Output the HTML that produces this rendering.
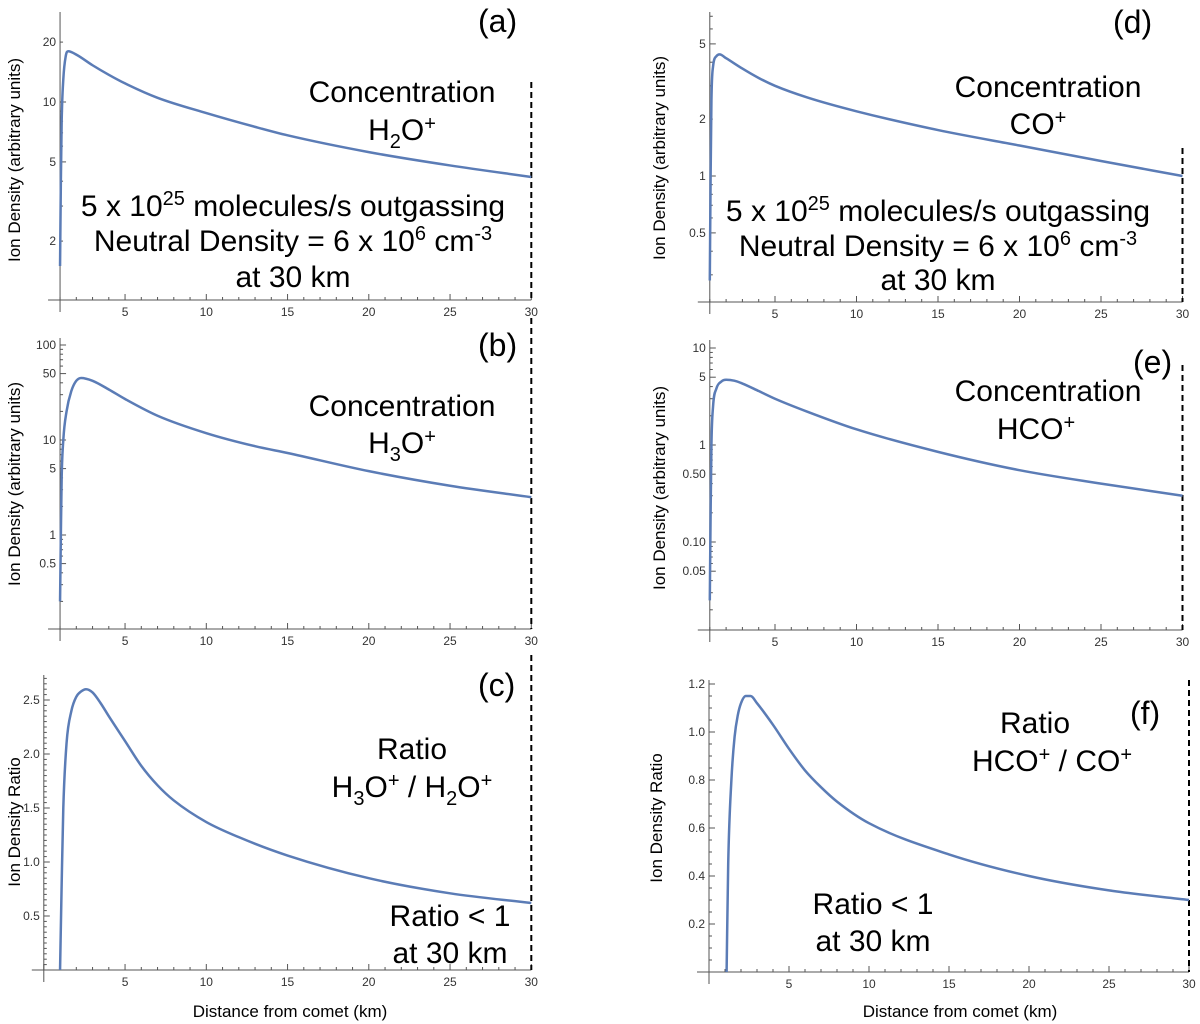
<!DOCTYPE html>
<html><head><meta charset="utf-8"><style>
html,body{margin:0;padding:0;background:#fff;}
svg{display:block;font-family:"Liberation Sans",sans-serif;}
.big{font-size:30px;fill:#000;}
.pl{font-size:32px;fill:#000;}
.tk{font-size:12px;fill:#333;}
.ax{stroke:#555;stroke-width:1;}
</style></head><body>
<svg id="fig" width="1200" height="1024" viewBox="0 0 1200 1024" xmlns="http://www.w3.org/2000/svg">
<g id="annot">
<text class="pl" x="478" y="32">(a)</text>
<text class="big" x="402" y="102" text-anchor="middle">Concentration</text>
<text class="big" x="402" y="140" text-anchor="middle">H<tspan font-size="20" dy="8">2</tspan><tspan dy="-8">O</tspan><tspan font-size="20" dy="-10">+</tspan></text>
<text class="big" x="293" y="216" text-anchor="middle">5 x 10<tspan font-size="20" dy="-11">25</tspan><tspan dy="11"> molecules/s outgassing</tspan></text>
<text class="big" x="293" y="251" text-anchor="middle">Neutral Density = 6 x 10<tspan font-size="20" dy="-11">6</tspan><tspan dy="11"> cm</tspan><tspan font-size="20" dy="-11">-3</tspan></text>
<text class="big" x="293" y="287" text-anchor="middle">at 30 km</text>

<text class="pl" x="478" y="356">(b)</text>
<text class="big" x="402" y="416" text-anchor="middle">Concentration</text>
<text class="big" x="402" y="453" text-anchor="middle">H<tspan font-size="20" dy="8">3</tspan><tspan dy="-8">O</tspan><tspan font-size="20" dy="-10">+</tspan></text>

<text class="pl" x="478" y="696">(c)</text>
<text class="big" x="412" y="759" text-anchor="middle">Ratio</text>
<text class="big" x="412" y="797" text-anchor="middle">H<tspan font-size="20" dy="8">3</tspan><tspan dy="-8">O</tspan><tspan font-size="20" dy="-10">+</tspan><tspan dy="10"> / H</tspan><tspan font-size="20" dy="8">2</tspan><tspan dy="-8">O</tspan><tspan font-size="20" dy="-10">+</tspan></text>
<text class="big" x="450" y="926" text-anchor="middle">Ratio &lt; 1</text>
<text class="big" x="450" y="963" text-anchor="middle">at 30 km</text>

<text class="pl" x="1113" y="33">(d)</text>
<text class="big" x="1048" y="97" text-anchor="middle">Concentration</text>
<text class="big" x="1038" y="134" text-anchor="middle">CO<tspan font-size="20" dy="-10">+</tspan></text>
<text class="big" x="938" y="221" text-anchor="middle">5 x 10<tspan font-size="20" dy="-11">25</tspan><tspan dy="11"> molecules/s outgassing</tspan></text>
<text class="big" x="938" y="256" text-anchor="middle">Neutral Density = 6 x 10<tspan font-size="20" dy="-11">6</tspan><tspan dy="11"> cm</tspan><tspan font-size="20" dy="-11">-3</tspan></text>
<text class="big" x="938" y="290" text-anchor="middle">at 30 km</text>

<text class="pl" x="1133" y="373">(e)</text>
<text class="big" x="1048" y="401" text-anchor="middle">Concentration</text>
<text class="big" x="1036" y="439" text-anchor="middle">HCO<tspan font-size="20" dy="-10">+</tspan></text>

<text class="pl" x="1130" y="724">(f)</text>
<text class="big" x="1035" y="733" text-anchor="middle">Ratio</text>
<text class="big" x="1052" y="771" text-anchor="middle">HCO<tspan font-size="20" dy="-10">+</tspan><tspan dy="10"> / CO</tspan><tspan font-size="20" dy="-10">+</tspan></text>
<text class="big" x="873" y="914" text-anchor="middle">Ratio &lt; 1</text>
<text class="big" x="873" y="951" text-anchor="middle">at 30 km</text>

<text x="290" y="1017" font-size="17" text-anchor="middle">Distance from comet (km)</text>
<text x="960" y="1017" font-size="17" text-anchor="middle">Distance from comet (km)</text>
<text transform="translate(20,160) rotate(-90)" font-size="17" text-anchor="middle">Ion Density (arbitrary units)</text>
<text transform="translate(20,484) rotate(-90)" font-size="17" text-anchor="middle">Ion Density (arbitrary units)</text>
<text transform="translate(20,822) rotate(-90)" font-size="17" text-anchor="middle">Ion Density Ratio</text>
<text transform="translate(665,158) rotate(-90)" font-size="17" text-anchor="middle">Ion Density (arbitrary units)</text>
<text transform="translate(665,488) rotate(-90)" font-size="17" text-anchor="middle">Ion Density (arbitrary units)</text>
<text transform="translate(662,818) rotate(-90)" font-size="17" text-anchor="middle">Ion Density Ratio</text>
</g>
</svg>
<script>
const distA=[1,1.05,1.1,1.2,1.35,1.5,2,3,4,5,7,10,13,15,20,25,30];
const densA=[1.5,4,8,13,17,18,17.3,15.3,13.7,12.4,10.5,8.8,7.5,6.8,5.6,4.8,4.2];
const distB=[1,1.05,1.1,1.2,1.4,1.7,2,2.3,3,4,5,7,10,13,15,20,25,30];
const densB=[0.2,1,4,10,20,33,42,45,42,34,27,18,11.8,8.6,7.3,4.7,3.3,2.5];
const distC=[1,1.1,1.2,1.4,1.7,2,2.3,2.6,3,3.5,4,5,6,7,8,10,12,15,20,25,30];
const ratioC=[0,0.8,1.5,2.1,2.4,2.53,2.58,2.6,2.57,2.47,2.35,2.12,1.89,1.71,1.57,1.37,1.23,1.06,0.85,0.71,0.62];
const distD=[1,1.05,1.1,1.2,1.4,1.6,2,3,4,5,7,10,15,20,25,30];
const densD=[0.28,1,2.5,3.8,4.3,4.4,4.2,3.7,3.3,3.0,2.6,2.2,1.75,1.45,1.2,1.0];
const distE=[1,1.05,1.1,1.2,1.4,1.7,2,2.5,3,4,5,7,10,15,20,25,30];
const densE=[0.025,0.2,1,2.5,3.8,4.5,4.7,4.6,4.3,3.6,3.0,2.2,1.45,0.85,0.55,0.4,0.3];
const distF=[1.1,1.2,1.4,1.6,1.8,2,2.3,2.6,3,4,5,6,7,8,10,15,20,25,30];
const ratioF=[0,0.45,0.8,0.98,1.07,1.12,1.15,1.15,1.12,1.03,0.93,0.84,0.77,0.71,0.62,0.49,0.4,0.34,0.3];
const xTicks=[5,10,15,20,25,30];
const yTicksA=[2,5,10,20];
const yTicksB=[0.5,1,5,10,50,100];
const yTicksC=[0.5,1.0,1.5,2.0,2.5];
const yTicksD=[0.5,1,2,5];
const yTicksE=[0.05,0.1,0.5,1,5,10];
const yTicksF=[0.2,0.4,0.6,0.8,1.0,1.2];

const NS='http://www.w3.org/2000/svg';
const svg=document.getElementById('fig');
function mk(tag,attrs,parent){const e=document.createElementNS(NS,tag);for(const k in attrs)e.setAttribute(k,attrs[k]);parent.appendChild(e);return e;}

function monoPath(P){
  const n=P.length;if(n<2)return '';
  const d=[],m=[];
  for(let i=0;i<n-1;i++){d.push((P[i+1][1]-P[i][1])/(P[i+1][0]-P[i][0]||1e-6));}
  m[0]=d[0];m[n-1]=d[n-2];
  for(let i=1;i<n-1;i++){m[i]=(d[i-1]*d[i]<=0)?0:(d[i-1]+d[i])/2;}
  for(let i=0;i<n-1;i++){if(d[i]===0){m[i]=0;m[i+1]=0;continue;}const a=m[i]/d[i],b=m[i+1]/d[i],s=a*a+b*b;if(s>9){const t=3/Math.sqrt(s);m[i]=t*a*d[i];m[i+1]=t*b*d[i];}}
  let s='M'+P[0][0].toFixed(2)+','+P[0][1].toFixed(2);
  for(let i=0;i<n-1;i++){const h=(P[i+1][0]-P[i][0])/3;
    s+=' C'+(P[i][0]+h).toFixed(2)+','+(P[i][1]+m[i]*h).toFixed(2)+' '+(P[i+1][0]-h).toFixed(2)+','+(P[i+1][1]-m[i+1]*h).toFixed(2)+' '+P[i+1][0].toFixed(2)+','+P[i+1][1].toFixed(2);}
  return s;
}

function panel(cfg){
  const g=mk('g',{},svg);
  
  
  const X=v=>cfg.x0+cfg.kx*v;
  const Y=cfg.log?(v=>cfg.refPx-cfg.dec*Math.log10(v/cfg.ref)):(v=>cfg.zeroPx-cfg.ku*v);
  const ax=X(cfg.yAxisAt);
  const xa=mk('line',{x1:ax-12,y1:cfg.xAxisY,x2:X(30),y2:cfg.xAxisY,class:'ax'},g);
  
  
  const ya=mk('line',{x1:ax,y1:cfg.top,x2:ax,y2:cfg.xAxisY+12,class:'ax'},g);
  
  
  for(let v=Math.ceil(cfg.yAxisAt);v<=30;v++){
    const major=v%5===0;
    mk('line',{x1:X(v),y1:cfg.xAxisY,x2:X(v),y2:cfg.xAxisY-(major?6:3),class:'ax'},g);
  }
  xTicks.forEach(v=>{const t=mk('text',{x:X(v),y:cfg.xAxisY+16,class:'tk','text-anchor':'middle'},g);t.textContent=String(v);
    
    });
  if(cfg.log){
    const lo=Math.floor(Math.log10(cfg.ref)-(cfg.xAxisY-cfg.refPx)/cfg.dec),hi=Math.ceil(Math.log10(cfg.ref)+(cfg.refPx-cfg.top)/cfg.dec);
    for(let e=lo;e<=hi;e++)for(let k=1;k<10;k++){const v=k*Math.pow(10,e),y=Y(v);if(y<cfg.top||y>cfg.xAxisY)continue;
      mk('line',{x1:ax,y1:y,x2:ax+(k===1||k===5?6:3),y2:y,class:'ax'},g);}
  }else{
    for(let v=0.05;v<=3;v+=0.05){const y=Y(v);if(y<cfg.top)break;const major=Math.abs(v*10-Math.round(v*10))<1e-6&&Math.round(v*10)%cfg.majEvery===0;
      mk('line',{x1:ax,y1:y,x2:ax+(major?6:3),y2:y,class:'ax'},g);}
  }
  cfg.yt.forEach((v,i)=>{const t=mk('text',{x:ax-4,y:Y(v)+4,class:'tk','text-anchor':'end'},g);t.textContent=cfg.ytl?cfg.ytl[i]:String(v);
    
    });
  const dl=mk('line',{x1:X(30),y1:cfg.dashTop,x2:X(30),y2:cfg.xAxisY,stroke:'#000','stroke-width':2,'stroke-dasharray':'6,4'},g);
  
  
  const P=cfg.xs.map((x,i)=>[X(x),Y(cfg.ys[i])]);
  const c=mk('path',{d:monoPath(P),fill:'none',stroke:'#5b7cb6','stroke-width':2.5,'stroke-linejoin':'round'},g);
  
  
}

panel({id:'a',x0:43.8,kx:16.25,yAxisAt:1,xAxisY:300,top:12,log:true,ref:10,refPx:102,dec:199,yt:yTicksA,xs:distA,ys:densA,dashTop:82});
panel({id:'b',x0:43.8,kx:16.25,yAxisAt:1,xAxisY:629,top:338,log:true,ref:1,refPx:535,dec:95,yt:yTicksB,xs:distB,ys:densB,dashTop:318});
panel({id:'c',x0:43.8,kx:16.25,yAxisAt:0,xAxisY:970,top:675,log:false,zeroPx:970,ku:108,majEvery:5,yt:yTicksC,ytl:['0.5','1.0','1.5','2.0','2.5'],xs:distC,ys:ratioC,dashTop:655});
panel({id:'d',x0:693.5,kx:16.3,yAxisAt:1,xAxisY:302,top:12,log:true,ref:1,refPx:176,dec:189,yt:yTicksD,xs:distD,ys:densD,dashTop:148});
panel({id:'e',x0:693.5,kx:16.3,yAxisAt:1,xAxisY:630,top:340,log:true,ref:1,refPx:445,dec:97,yt:yTicksE,ytl:['0.05','0.10','0.50','1','5','10'],xs:distE,ys:densE,dashTop:365});
panel({id:'f',x0:709,kx:16.0,yAxisAt:0,xAxisY:972,top:680,log:false,zeroPx:972,ku:240,majEvery:2,yt:yTicksF,ytl:['0.2','0.4','0.6','0.8','1.0','1.2'],xs:distF,ys:ratioF,dashTop:680});
</script>
</body></html>
